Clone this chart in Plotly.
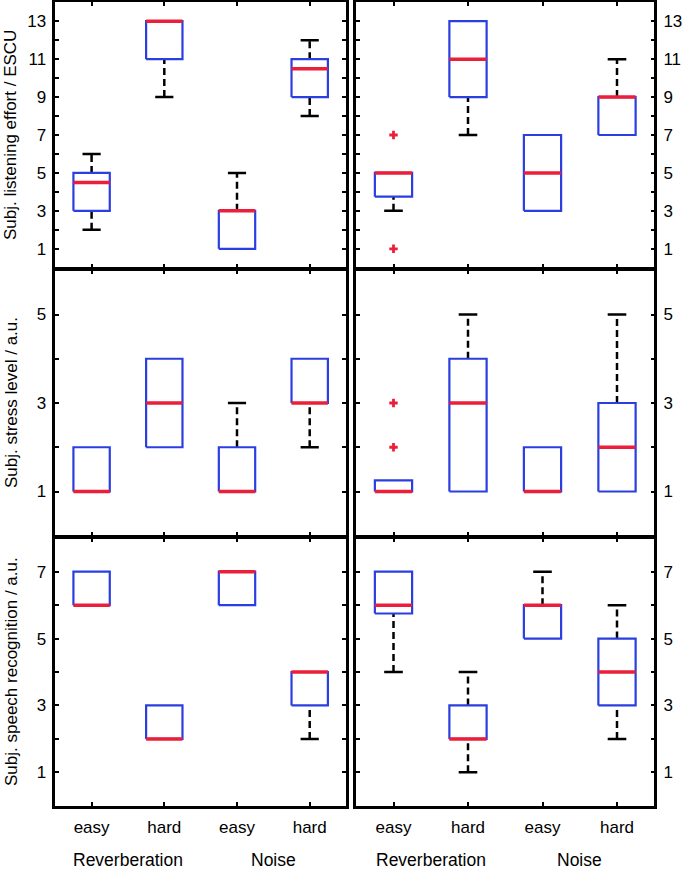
import plotly.graph_objects as go
from plotly.subplots import make_subplots

conditions = ["easy", "hard", "easy", "hard"]
groups = ["Reverberation", "Noise"]
positions = [1, 2, 3, 4]

# subjective listening effort / ESCU
effort_l_q1 = [3, 11, 1, 9]
effort_l_med = [4.5, 13, 3, 10.5]
effort_l_q3 = [5, 13, 3, 11]
effort_l_lo = [2, 9, 1, 8]
effort_l_hi = [6, 13, 5, 12]
effort_l_out = [[], [], [], []]

effort_r_q1 = [3.75, 9, 3, 7]
effort_r_med = [5, 11, 5, 9]
effort_r_q3 = [5, 13, 7, 9]
effort_r_lo = [3, 7, 3, 7]
effort_r_hi = [5, 13, 7, 11]
effort_r_out = [[1, 7], [], [], []]

# subjective stress level / a.u.
stress_l_q1 = [1, 2, 1, 3]
stress_l_med = [1, 3, 1, 3]
stress_l_q3 = [2, 4, 2, 4]
stress_l_lo = [1, 2, 1, 2]
stress_l_hi = [2, 4, 3, 4]
stress_l_out = [[], [], [], []]

stress_r_q1 = [1, 1, 1, 1]
stress_r_med = [1, 3, 1, 2]
stress_r_q3 = [1.25, 4, 2, 3]
stress_r_lo = [1, 1, 1, 1]
stress_r_hi = [1.25, 5, 2, 5]
stress_r_out = [[2, 3], [], [], []]

# subjective speech recognition / a.u.
speech_l_q1 = [6, 2, 6, 3]
speech_l_med = [6, 2, 7, 4]
speech_l_q3 = [7, 3, 7, 4]
speech_l_lo = [6, 2, 6, 2]
speech_l_hi = [7, 3, 7, 4]
speech_l_out = [[], [], [], []]

speech_r_q1 = [5.75, 2, 5, 3]
speech_r_med = [6, 2, 6, 4]
speech_r_q3 = [7, 3, 6, 5]
speech_r_lo = [4, 1, 5, 2]
speech_r_hi = [7, 4, 7, 6]
speech_r_out = [[], [], [], []]

row_titles = ["Subj. listening effort / ESCU", "Subj. stress level / a.u.",
              "Subj. speech recognition / a.u."]
row_ranges = [[0, 14], [0, 6], [0, 8]]
row_labels = [[1, 3, 5, 7, 9, 11, 13], [1, 3, 5], [1, 3, 5, 7]]

BLUE = "#2b3ee0"
RED = "#ec1f3a"
FONT = "Liberation Sans, Arial, Helvetica, sans-serif"
HALF_BOX = 0.25
HALF_CAP = 0.125
LW = 2.5

fig = make_subplots(rows=3, cols=2)


def add_panel(row, col, q1, med, q3, lo, hi, out):
    bx, by, mx, my, wx, wy, cx, cy, ox, oy = [], [], [], [], [], [], [], [], [], []
    for p, a, m, b, l, h, o in zip(positions, q1, med, q3, lo, hi, out):
        bx += [p - HALF_BOX, p + HALF_BOX, p + HALF_BOX, p - HALF_BOX, p - HALF_BOX, None]
        by += [a, a, b, b, a, None]
        mx += [p - HALF_BOX, p + HALF_BOX, None]
        my += [m, m, None]
        if l < a:
            wx += [p, p, None]
            wy += [l, a, None]
            cx += [p - HALF_CAP, p + HALF_CAP, None]
            cy += [l, l, None]
        if h > b:
            wx += [p, p, None]
            wy += [b, h, None]
            cx += [p - HALF_CAP, p + HALF_CAP, None]
            cy += [h, h, None]
        for v in o:
            ox.append(p)
            oy.append(v)
    common = dict(showlegend=False, hoverinfo="skip")
    fig.add_trace(go.Scatter(x=wx, y=wy, mode="lines",
                             line=dict(color="black", width=2.5, dash="7px,4px"), **common),
                  row=row, col=col)
    fig.add_trace(go.Scatter(x=cx, y=cy, mode="lines",
                             line=dict(color="black", width=2.5), **common), row=row, col=col)
    fig.add_trace(go.Scatter(x=bx, y=by, mode="lines",
                             line=dict(color=BLUE, width=2.2), **common), row=row, col=col)
    fig.add_trace(go.Scatter(x=mx, y=my, mode="lines",
                             line=dict(color=RED, width=3.5), **common), row=row, col=col)
    if ox:
        fig.add_trace(go.Scatter(x=ox, y=oy, mode="markers",
                                 marker=dict(color=RED, symbol="cross", size=7), **common),
                      row=row, col=col)


panels = [
    (1, 1, effort_l_q1, effort_l_med, effort_l_q3, effort_l_lo, effort_l_hi, effort_l_out),
    (1, 2, effort_r_q1, effort_r_med, effort_r_q3, effort_r_lo, effort_r_hi, effort_r_out),
    (2, 1, stress_l_q1, stress_l_med, stress_l_q3, stress_l_lo, stress_l_hi, stress_l_out),
    (2, 2, stress_r_q1, stress_r_med, stress_r_q3, stress_r_lo, stress_r_hi, stress_r_out),
    (3, 1, speech_l_q1, speech_l_med, speech_l_q3, speech_l_lo, speech_l_hi, speech_l_out),
    (3, 2, speech_r_q1, speech_r_med, speech_r_q3, speech_r_lo, speech_r_hi, speech_r_out),
]
for args in panels:
    add_panel(*args)

W, H = 684, 870
# frame line centres in pixels; plot areas are inset by half a line width
col_px = [(54, 347.3), (355, 655.5)]
row_px = [(1, 269), (269, 537), (537, 807)]
axis_style = dict(showgrid=False, zeroline=False, showline=True, mirror="ticks",
                  linecolor="black", linewidth=LW, ticks="inside", ticklen=4,
                  tickwidth=2, tickcolor="black", automargin=False,
                  tickfont=dict(family=FONT, size=17, color="black"))

for r in range(3):
    top, bot = row_px[r]
    lo_r, hi_r = row_ranges[r]
    tv = list(range(lo_r + 1, hi_r))
    tt = [str(v) if v in row_labels[r] else "" for v in tv]
    for c in range(2):
        left, right = col_px[c]
        fig.update_xaxes(domain=[(left + LW / 2) / W, (right - LW / 2) / W],
                         range=[0.5, 4.5], tickvals=positions,
                         ticktext=conditions if r == 2 else [""] * 4,
                         ticklabelstandoff=4,
                         row=r + 1, col=c + 1, **axis_style)
        fig.update_yaxes(domain=[1 - (bot - LW / 2) / H, 1 - (top + LW / 2) / H],
                         range=row_ranges[r], tickvals=tv, ticktext=tt,
                         side="left" if c == 0 else "right", ticklabelstandoff=3,
                         row=r + 1, col=c + 1, **axis_style)
    fig.add_annotation(text=row_titles[r], xref="paper", yref="paper", x=11 / W,
                       y=1 - (top + bot) / 2 / H, textangle=-90, showarrow=False,
                       xanchor="center", yanchor="middle",
                       font=dict(family=FONT, size=17, color="black"))

for xr in ["x5", "x6"]:
    for i, g in enumerate(groups):
        fig.add_annotation(text=g, xref=xr, yref="paper", x=positions[2 * i] + 0.5,
                           y=1 - 860 / H, showarrow=False, xanchor="center", yanchor="middle",
                           font=dict(family=FONT, size=17.5, color="black"))

fig.update_layout(width=W, height=H, margin=dict(l=0, r=0, t=0, b=0),
                  paper_bgcolor="white", plot_bgcolor="white")

fig.write_html("out.html", config={"displayModeBar": False},
               post_script="document.body.style.margin = '0';")
